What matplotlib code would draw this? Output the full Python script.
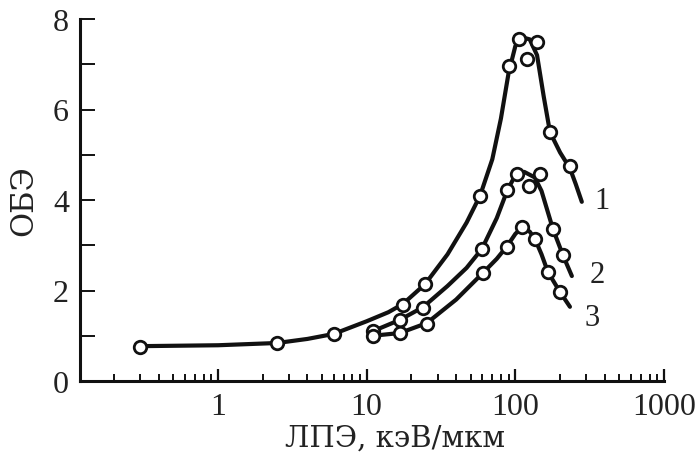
import matplotlib
matplotlib.use("Agg")
import matplotlib.pyplot as plt
from matplotlib.ticker import LogLocator, FixedLocator, NullFormatter, FixedFormatter

plt.rcParams['font.family'] = ['Liberation Serif', 'DejaVu Serif']

# ---- data ----
# curve 1: measured points
c1_x = [0.3, 2.5, 6.0, 17.5, 24.7, 58, 90, 106, 120, 140, 171, 233]
c1_y = [0.75, 0.84, 1.04, 1.68, 2.14, 4.09, 6.96, 7.56, 7.12, 7.49, 5.50, 4.75]
# curve 1: traced line
l1_x = [0.3, 1, 2.5, 4, 6, 10, 14, 17.5, 24.7, 35, 47, 58, 70, 80, 90, 100, 110, 125, 140, 155, 171, 200, 233, 255, 280]
l1_y = [0.77, 0.79, 0.84, 0.93, 1.04, 1.32, 1.52, 1.70, 2.14, 2.8, 3.5, 4.1, 4.9, 5.8, 6.8, 7.4, 7.6, 7.55, 7.2, 6.3, 5.5, 5.05, 4.7, 4.35, 3.96]

# curve 2
c2_x = [11, 16.7, 23.9, 59.6, 88, 102.5, 123, 146, 179, 209]
c2_y = [1.10, 1.35, 1.61, 2.92, 4.22, 4.57, 4.31, 4.57, 3.36, 2.78]
l2_x = [11, 16.7, 23.9, 35, 47, 59.6, 75, 88, 100, 115, 135, 150, 179, 209, 240]
l2_y = [1.10, 1.35, 1.63, 2.1, 2.5, 2.92, 3.6, 4.2, 4.55, 4.62, 4.5, 4.2, 3.36, 2.78, 2.32]

# curve 3
c3_x = [11, 16.7, 25.4, 60.6, 88, 110.7, 135.5, 165.6, 199.5]
c3_y = [1.00, 1.06, 1.26, 2.39, 2.96, 3.40, 3.14, 2.41, 1.97]
l3_x = [11, 16.7, 25.4, 40, 60.6, 75, 88, 100, 111, 125, 135.5, 150, 165.6, 199.5, 233]
l3_y = [1.00, 1.06, 1.28, 1.8, 2.39, 2.7, 2.98, 3.25, 3.40, 3.3, 3.14, 2.8, 2.41, 1.97, 1.64]

curve_labels = ['1', '2', '3']
label_x = [338, 316, 292]
label_y = [3.98, 2.36, 1.41]

y_ticks = [0, 2, 4, 6, 8]
x_ticks = [1, 10, 100, 1000]
x_ticklabels = ['1', '10', '100', '1000']

W, H = 697, 456
fig = plt.figure(figsize=(W / 100, H / 100), dpi=100)
ax = fig.add_axes([80 / W, (H - 382) / H, (664 - 80) / W, (382 - 20) / H])

ink = '#111111'
for lx, ly in [(l1_x, l1_y), (l2_x, l2_y), (l3_x, l3_y)]:
    ax.plot(lx, ly, '-', color=ink, lw=3.0, solid_capstyle='round', solid_joinstyle='round', zorder=2)
for cx, cy in [(c1_x, c1_y), (c2_x, c2_y), (c3_x, c3_y)]:
    ax.plot(cx, cy, 'o', ms=9, mfc='white', mec=ink, mew=2.0, zorder=3)

for t, tx, ty in zip(curve_labels, label_x, label_y):
    ax.text(tx, ty, t, fontsize=22, color='#222222', ha='left', va='center')

ax.set_xscale('log')
ax.set_xlim(0.118, 1000)
ax.set_ylim(0, 8)

ax.xaxis.set_major_locator(FixedLocator(x_ticks))
ax.xaxis.set_major_formatter(FixedFormatter(x_ticklabels))
ax.xaxis.set_minor_locator(LogLocator(base=10, subs=range(2, 10), numticks=20))
ax.xaxis.set_minor_formatter(NullFormatter())
ax.yaxis.set_major_locator(FixedLocator(y_ticks))
ax.yaxis.set_minor_locator(FixedLocator([1, 3, 5, 7]))

for s in ['top', 'right']:
    ax.spines[s].set_visible(False)
for s in ['left', 'bottom']:
    ax.spines[s].set_linewidth(2.2)
    ax.spines[s].set_color(ink)

ax.tick_params(axis='x', which='major', direction='in', length=9, width=1.6, color=ink,
               labelsize=23, labelcolor='#222222', pad=8)
ax.tick_params(axis='x', which='minor', direction='in', length=5, width=1.4, color=ink)
ax.tick_params(axis='y', which='major', direction='in', length=11, width=1.4, color=ink,
               labelsize=23, labelcolor='#222222', pad=8)
ax.tick_params(axis='y', which='minor', direction='in', length=11, width=1.4, color=ink)

ax.set_xlabel('ЛПЭ, кэВ/мкм', fontsize=21, color='#222222', labelpad=2,
              family=['DejaVu Serif'], x=(395 - 80) / 584)
ax.set_ylabel('ОБЭ', fontsize=22, color='#222222', labelpad=10, family=['DejaVu Serif'])

fig.savefig('out.png', dpi=100)
